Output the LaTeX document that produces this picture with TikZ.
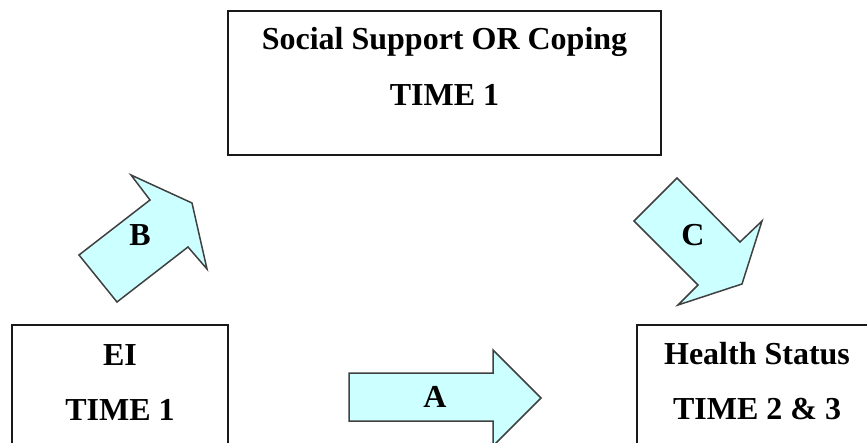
\documentclass[tikz,border=0pt]{standalone}
\usepackage{fontspec}
\setmainfont{Liberation Serif}
\usetikzlibrary{positioning}

\definecolor{arrowfill}{HTML}{CCFFFF}
\definecolor{arrowedge}{HTML}{404040}

\tikzset{
  box/.style={draw=black!90, line width=1.5pt, inner sep=0pt},
  lbl/.style={font=\bfseries\fontsize{32}{32}\selectfont, anchor=base, inner sep=0pt},
  blockarrow/.style={fill=arrowfill, draw=arrowedge, line width=1.5pt, line join=miter},
}

\begin{document}
\begin{tikzpicture}[x=1pt, y=-1pt]
  \useasboundingbox (0,0) rectangle (867,443);
  \clip (0,0) rectangle (867,443);
  \fill[white] (0,0) rectangle (867,443);

  % boxes
  \node[box, minimum width=433pt, minimum height=144pt] (social) at (444.5, 83) {};
  \node[box, minimum width=216pt, minimum height=150pt] (ei)     at (120, 400) {};
  \node[box, minimum width=240pt, minimum height=150pt] (health) at (757, 400) {};

  \node[lbl] (socialA) at ([yshift=-39pt]social.north) {Social Support OR Coping};
  \node[lbl] (socialB) at ([yshift=-56pt]socialA.base) {TIME 1};
  \node[lbl] (eiA)     at ([yshift=-41pt]ei.north) {EI};
  \node[lbl] (eiB)     at ([yshift=-55pt]eiA.base) {TIME 1};
  \node[lbl] (healthA) at ([yshift=-40pt]health.north) {Health Status};
  \node[lbl] (healthB) at ([yshift=-55pt]healthA.base) {TIME 2 \& 3};

  % block arrows
  \draw[blockarrow] (349,373) -- (493,373) -- (493,350) -- (541,398)
    -- (493,446) -- (493,421) -- (349,421) -- cycle;
  \draw[blockarrow] (79,255) -- (150,200) -- (131,175) -- (192,203)
    -- (207,269) -- (188,247) -- (117,302) -- cycle;
  \draw[blockarrow] (677,178) -- (740,242) -- (762,221) -- (742,284)
    -- (678,305) -- (698,285) -- (634,221) -- cycle;

  \node[lbl, anchor=center] (arrA) at (435, 397) {A};
  \node[lbl, anchor=center] (arrB) at (140, 235) {B};
  \node[lbl, anchor=center] (arrC) at (693, 235) {C};
\end{tikzpicture}
\end{document}
